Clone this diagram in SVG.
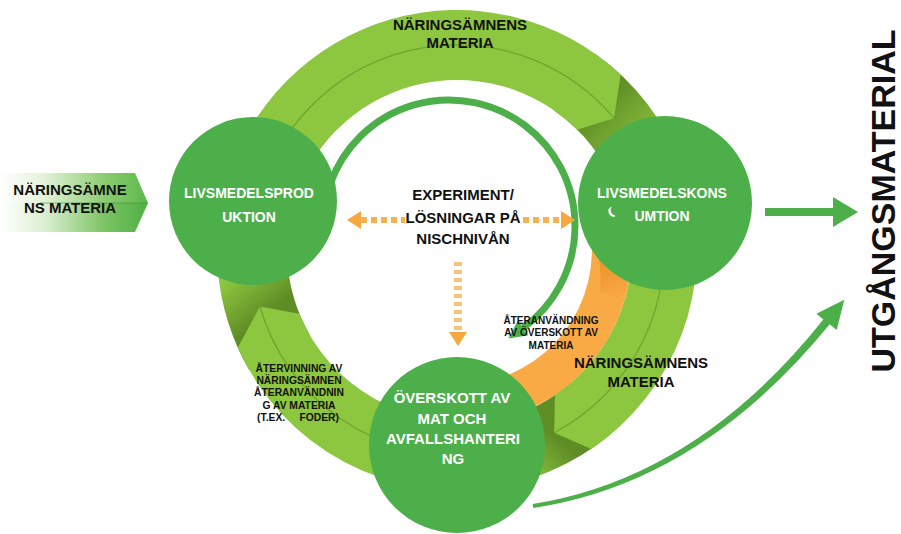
<svg xmlns="http://www.w3.org/2000/svg" width="901" height="534" viewBox="0 0 901 534">
<style>
.t{font-family:"Liberation Sans",Arial,sans-serif;font-weight:bold;text-anchor:middle}
.w{fill:#ffffff}
.k{fill:#111111}
.node{fill:#4caf4a}
.band{fill:#8dc63f}
.seam{fill:none;stroke:#6fa52e;stroke-width:1.3}
.dash{fill:none;stroke:#f6b152;stroke-width:6}
.head{fill:#f6a83e}
.grn{fill:#4caf4a}
</style>
<defs>
<linearGradient id="gIn1" x1="0" y1="0" x2="148" y2="0" gradientUnits="userSpaceOnUse">
<stop offset="0" stop-color="#ffffff"/><stop offset="0.3" stop-color="#e3f2da"/><stop offset="0.7" stop-color="#8ccd72"/><stop offset="1" stop-color="#5cb84a"/>
</linearGradient>
<linearGradient id="gIn2" x1="0" y1="0" x2="148" y2="0" gradientUnits="userSpaceOnUse">
<stop offset="0" stop-color="#ffffff"/><stop offset="0.3" stop-color="#dcefd2"/><stop offset="0.7" stop-color="#7dc463"/><stop offset="1" stop-color="#4faf44"/>
</linearGradient>
<linearGradient id="gTop" x1="615" y1="85" x2="665" y2="135" gradientUnits="userSpaceOnUse">
<stop offset="0" stop-color="#5e8c25"/><stop offset="1" stop-color="#8dc63f"/>
</linearGradient>
<linearGradient id="gLeft" x1="255" y1="325" x2="222" y2="285" gradientUnits="userSpaceOnUse">
<stop offset="0" stop-color="#5e8c25"/><stop offset="1" stop-color="#8dc63f"/>
</linearGradient>
<linearGradient id="gRight" x1="560" y1="440" x2="525" y2="478" gradientUnits="userSpaceOnUse">
<stop offset="0" stop-color="#5e8c25"/><stop offset="1" stop-color="#8dc63f"/>
</linearGradient>
<linearGradient id="gOr" x1="600" y1="262" x2="620" y2="300" gradientUnits="userSpaceOnUse">
<stop offset="0" stop-color="#e48a22"/><stop offset="1" stop-color="#f9aa45"/>
</linearGradient>
</defs>

<g id="connectors">
  <!-- top band: production -> consumption -->
  <path d="M 594.7 53.4 A 240 240 0 0 1 682.5 167.9 L 616.7 191.9 A 170 170 0 0 0 554.5 110.7 Z" fill="url(#gTop)"/>
  <path class="band" d="M 225.2 187.9 A 240 240 0 0 1 620.7 74.5 L 614 118.2 L 577.2 129.8 A 170 170 0 0 0 292.8 206 Z"/>
  <path class="seam" d="M 264.4 179.9 A 205 205 0 0 1 614 118.2"/>
  <!-- left lower band: surplus -> production -->
  <path d="M 249.2 370 A 240 240 0 0 1 231.5 167.9 L 297.3 191.9 A 170 170 0 0 0 309.8 335 Z" fill="url(#gLeft)"/>
  <path class="band" d="M 498.7 486.4 A 240 240 0 0 1 237.8 347.6 L 259.9 306.5 L 299.4 313.7 A 170 170 0 0 0 486.5 417.4 Z"/>
  <path class="seam" d="M 474.9 454.2 A 205 205 0 0 1 259.9 306.5"/>
  <!-- right lower band: consumption -> surplus -->
  <path d="M 611.3 433.8 A 240 240 0 0 1 477.9 489.1 L 472.3 424.3 A 175 175 0 0 0 569.5 384.1 Z" fill="url(#gRight)"/>
  <path class="band" d="M 688.8 187.9 A 240 240 0 0 1 591.2 449 L 554.2 432.8 L 554.9 395.1 A 175 175 0 0 0 626 204.7 Z"/>
  <path class="seam" d="M 660.9 214.1 A 207 207 0 0 1 554.2 432.8"/>
  <!-- orange inner band -->
  <path d="M 629.3 219.6 A 175 175 0 0 1 472.3 424.3 L 468.8 384.5 A 135 135 0 0 0 589.9 226.6 Z" fill="#f9aa45"/>
  <path d="M 629.3 219.6 A 175 175 0 0 1 622 300 L 600 292 A 135 135 0 0 0 589.9 226.6 Z" fill="url(#gOr)" opacity="0.7"/>

  <!-- thin inner arc arrow -->
  <path d="M 330.6 182.9 A 126 126 0 1 1 523.1 327.9" fill="none" stroke="#4caf4a" stroke-width="7"/>
  <polygon class="grn" points="528.4,335.2 517.8,320.6 508.5,338.5"/>

  <!-- dashed orange arrows -->
  <line class="dash" x1="361" y1="220" x2="405" y2="220" stroke-dasharray="6 4"/>
  <line class="dash" x1="523" y1="220" x2="561" y2="220" stroke-dasharray="6 4"/>
  <polygon class="head" points="347,220 361,211 361,229"/>
  <polygon class="head" points="575,220 561,211 561,229"/>
  <line x1="458" y1="262" x2="458" y2="332" stroke="#f7c27a" stroke-width="8" stroke-dasharray="4 4"/>
  <polygon class="head" points="458,346 449,332 467,332"/>

  <!-- output arrows -->
  <rect class="grn" x="765" y="208" width="70" height="8"/>
  <polygon class="grn" points="833,197 858,212 833,227"/>
  <path class="grn" d="M 532.7 504 Q 698.6 477.4 824.9 317.5 L 831.1 322.5 Q 701.4 482.6 533.3 508 Z"/>
  <polygon class="grn" points="836.7,330 816.3,313.8 844.3,299.7"/>
</g>

<g id="node-input">
  <polygon points="0,173 135,173 148,203 0,203" fill="url(#gIn1)"/>
  <polygon points="0,203 148,203 135,232 0,232" fill="url(#gIn2)"/>
  <line x1="40" y1="203" x2="148" y2="203" stroke="#3f8f35" stroke-width="1" opacity="0.6"/>
  <text class="t k" font-size="15" x="70" y="195">NÄRINGSÄMNE</text>
  <text class="t k" font-size="15" x="70" y="213">NS MATERIA</text>
</g>

<g id="node-production">
  <circle class="node" cx="253" cy="201" r="84"/>
  <text class="t w" font-size="14" x="249" y="198">LIVSMEDELSPROD</text>
  <text class="t w" font-size="14" x="249" y="222">UKTION</text>
</g>

<g id="node-consumption">
  <circle class="node" cx="665" cy="203" r="87"/>
  <text class="t w" font-size="14" x="662" y="198">LIVSMEDELSKONS</text>
  <text class="t w" font-size="14" x="662" y="221">UMTION</text>
  <path d="M 611 207 A 5 5 0 0 0 615 216 A 6 6 0 0 1 611 207 Z" fill="#ffffff" stroke="#ffffff" stroke-width="1"/>
</g>

<g id="node-surplus">
  <circle class="node" cx="457" cy="445" r="88"/>
  <text class="t w" font-size="15" x="452" y="403">ÖVERSKOTT AV</text>
  <text class="t w" font-size="15" x="452" y="424">MAT OCH</text>
  <text class="t w" font-size="15" x="453" y="444">AVFALLSHANTERI</text>
  <text class="t w" font-size="15" x="453" y="464">NG</text>
</g>

<g id="node-experiment">
  <text class="t k" font-size="15" x="463" y="200">EXPERIMENT/</text>
  <text class="t k" font-size="15" x="463" y="223">LÖSNINGAR PÅ</text>
  <text class="t k" font-size="15" x="463" y="244">NISCHNIVÅN</text>
</g>

<g id="labels">
  <text class="t k" font-size="15" x="460" y="30">NÄRINGSÄMNENS</text>
  <text class="t k" font-size="15" x="460" y="48">MATERIA</text>
  <text class="t k" font-size="10" x="551" y="324">ÅTERANVÄNDNING</text>
  <text class="t k" font-size="10" x="551" y="336">AV ÖVERSKOTT AV</text>
  <text class="t k" font-size="10" x="551" y="349">MATERIA</text>
  <text class="t k" font-size="15" x="641" y="368">NÄRINGSÄMNENS</text>
  <text class="t k" font-size="15" x="641" y="387">MATERIA</text>
  <text class="t k" font-size="10.3" x="299" y="372">ÅTERVINNING AV</text>
  <text class="t k" font-size="10.3" x="299" y="384">NÄRINGSÄMNEN</text>
  <text class="t k" font-size="10.3" x="299" y="396">ÅTERANVÄNDNIN</text>
  <text class="t k" font-size="10.3" x="299" y="409">G AV MATERIA</text>
  <text class="t k" font-size="10.3" x="298" y="421" style="white-space:pre">(T.EX.     FODER)</text>
</g>

<g id="node-output">
  <text class="t k" font-size="34" transform="translate(895,201) rotate(-90)">UTGÅNGSMATERIAL</text>
</g>
</svg>
